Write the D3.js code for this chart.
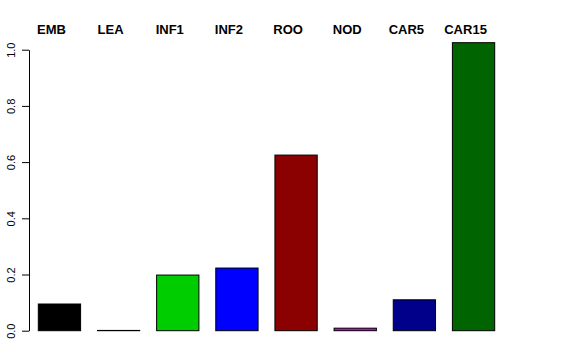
<!DOCTYPE html>
<html>
<head>
<meta charset="utf-8">
<script src="https://cdn.jsdelivr.net/npm/d3@7"></script>
<style>
  body { margin: 0; background: #fff; }
  svg { display: block; font-family: "Liberation Sans", Arial, sans-serif; }
</style>
</head>
<body>
<svg id="chart" width="576" height="360"></svg>
<script>
// Kategorien und Werte
const categories = ["EMB", "LEA", "INF1", "INF2", "ROO", "NOD", "CAR5", "CAR15"];
const values = [0.095, 0.001, 0.198, 0.223, 0.625, 0.009, 0.110, 1.025];
const barColors = ["#000000", "#000000", "#00CD00", "#0000FF", "#8B0000", "#CD00CD", "#00008B", "#006400"];
const yTicks = [0, 0.2, 0.4, 0.6, 0.8, 1.0];

const svg = d3.select("#chart");

const x = d3.scaleBand()
  .domain(categories)
  .range([38.3, 494.7])
  .paddingInner(0.285)
  .paddingOuter(0);

const y = d3.scaleLinear()
  .domain([0, 1])
  .range([330.7, 49.7]);

// Balken
svg.selectAll("rect.bar")
  .data(categories)
  .enter()
  .append("rect")
    .attr("class", "bar")
    .attr("x", d => x(d))
    .attr("y", (d, i) => y(values[i]))
    .attr("width", x.bandwidth())
    .attr("height", (d, i) => y(0) - y(values[i]))
    .attr("fill", (d, i) => barColors[i])
    .attr("stroke", "#000")
    .attr("stroke-width", 1);

// Y-Achse
const yAxis = svg.append("g")
  .attr("transform", "translate(29,0)")
  .call(d3.axisLeft(y).tickValues(yTicks).tickFormat(d3.format(".1f")).tickSize(7).tickSizeOuter(0));

yAxis.select(".domain").attr("stroke", "#000");
yAxis.selectAll(".tick line").attr("stroke", "#000");
yAxis.selectAll(".tick text")
  .attr("font-size", 11)
  .attr("font-family", "Liberation Sans, Arial, sans-serif")
  .attr("fill", "#000")
  .attr("text-anchor", "middle")
  .attr("transform", "rotate(-90)")
  .attr("x", 0)
  .attr("y", -14)
  .attr("dy", "0");

// Beschriftungen oben
svg.selectAll("text.cat")
  .data(categories)
  .enter()
  .append("text")
    .attr("class", "cat")
    .attr("x", d => x(d) + x.bandwidth() / 2 - 8)
    .attr("y", 34)
    .attr("text-anchor", "middle")
    .attr("font-size", 13)
    .attr("font-weight", "bold")
    .attr("fill", "#000")
    .text(d => d);
</script>
</body>
</html>
